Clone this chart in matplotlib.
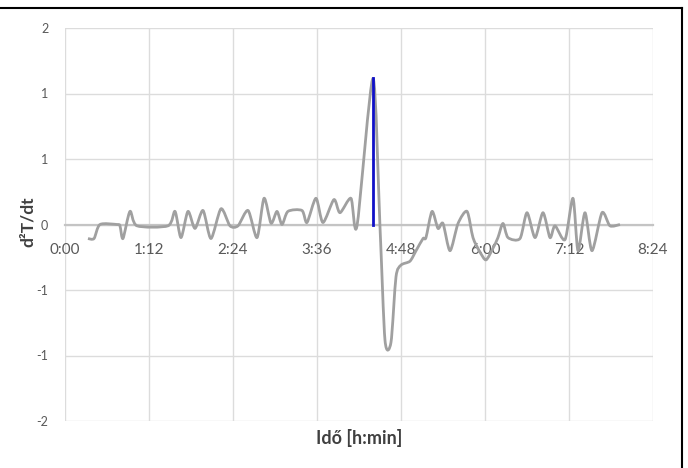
import matplotlib
matplotlib.use("Agg")
import matplotlib.pyplot as plt
from matplotlib.ticker import FuncFormatter, FixedLocator
from matplotlib.path import Path
from matplotlib.patches import PathPatch
from matplotlib.lines import Line2D
import math

plt.rcParams['font.family'] = ['Lato', 'DejaVu Sans']

# time in minutes
time_min = [19.7, 24.9, 30.0, 44.6, 47.1, 49.7, 55.7, 61.7, 88.3, 94.3, 99.4, 105.4,
            111.4, 118.3, 125.1, 133.7, 141.4, 148.3, 156.9, 164.6, 170.6, 176.6,
            181.7, 186.0, 191.1, 203.1, 207.4, 215.1, 221.1, 230.5, 235.7, 245.1,
            250.3, 264.0, 270.0, 274.3, 279.4, 283.7, 288.0, 295.7, 300.9, 306.9,
            309.4, 314.6, 319.7, 324.0, 330.0, 336.9, 344.6, 349.7, 355.7, 360.9,
            366.9, 371.1, 375.4, 379.7, 390.0, 396.0, 402.9, 409.7, 415.7, 420.0,
            428.6, 435.4, 439.7, 445.7, 451.7, 460.3, 467.1, 475.7]
d2T = [-0.107, -0.107, 0.0, 0.0, -0.01, -0.107, 0.10, -0.01, -0.01, 0.10, -0.10, 0.10,
       -0.03, 0.107, -0.107, 0.12, -0.01, -0.01, 0.107, -0.10, 0.20, 0.01,
       0.10, 0.0, 0.10, 0.107, 0.015, 0.20, 0.015, 0.19, 0.09, 0.20,
       -0.01, 1.115, -0.02, -0.885, -0.90, -0.40, -0.31, -0.28, -0.20, -0.107,
       -0.10, 0.10, -0.03, 0.008, -0.20, 0.008, 0.10, -0.10, -0.21, -0.27,
       -0.18, -0.10, 0.008, -0.10, -0.107, 0.09, -0.10, 0.09, -0.10, -0.01,
       -0.115, 0.20, -0.20, 0.09, -0.20, 0.09, -0.01, 0.0]

peak_time = 264.0
peak_value = 1.115

x_ticks = [0, 72, 144, 216, 288, 360, 432, 504]
y_ticks = [-1.5, -1.0, -0.5, 0.0, 0.5, 1.0, 1.5]

fig = plt.figure(figsize=(6.88, 4.68), dpi=100)
# frame lines (top and right) of the scanned figure
fig.lines.append(Line2D([0, 682/688], [1 - 8/468, 1 - 8/468], transform=fig.transFigure,
                        color='black', linewidth=1.5))
fig.lines.append(Line2D([682/688, 682/688], [0, 1 - 8/468], transform=fig.transFigure,
                        color='black', linewidth=1.5))
ax = fig.add_axes([65/688, 1 - 421/468, 588/688, 393/468])

# smoothed line (Excel-style smoothing drawn as cubic Bezier through the data points)
verts = [(time_min[0], d2T[0])]
codes = [Path.MOVETO]
n = len(time_min)
k = 0.13
for i in range(n - 1):
    x0, y0 = (time_min[i - 1], d2T[i - 1]) if i > 0 else (time_min[i], d2T[i])
    x1, y1 = time_min[i], d2T[i]
    x2, y2 = time_min[i + 1], d2T[i + 1]
    x3, y3 = (time_min[i + 2], d2T[i + 2]) if i + 2 < n else (x2, y2)
    verts += [(x1 + (x2 - x0) * k, y1 + (y2 - y0) * k),
              (x2 - (x3 - x1) * k, y2 - (y3 - y1) * k),
              (x2, y2)]
    codes += [Path.CURVE4, Path.CURVE4, Path.CURVE4]
ax.add_patch(PathPatch(Path(verts, codes), facecolor='none', edgecolor='#a0a0a0',
                       linewidth=2.0, joinstyle='round', zorder=3))
ax.plot([peak_time, peak_time], [0, peak_value], color='#1010c8', linewidth=2.0, zorder=4)

ax.set_xlim(0, 504)
ax.set_ylim(-1.5, 1.5)
ax.xaxis.set_major_locator(FixedLocator(x_ticks))
ax.yaxis.set_major_locator(FixedLocator(y_ticks))

def fmt_time(v, pos):
    m = int(round(v))
    return f"{m // 60}:{m % 60:02d}"

def fmt_y(v, pos):
    r = int(math.copysign(math.floor(abs(v) + 0.5), v)) if v != 0 else 0
    return f"{r}"

ax.xaxis.set_major_formatter(FuncFormatter(fmt_time))
ax.yaxis.set_major_formatter(FuncFormatter(fmt_y))

ax.grid(True, color='#dcdcdc', linewidth=1.0, zorder=0)
ax.set_axisbelow(True)
for s in ['top', 'right', 'left']:
    ax.spines[s].set_visible(False)
ax.spines['bottom'].set_position(('data', 0))
ax.spines['bottom'].set_color('#c4c4c4')
ax.spines['bottom'].set_linewidth(1.6)
ax.spines['bottom'].set_zorder(2)

ax.tick_params(axis='x', length=0, pad=13, labelsize=11, labelcolor='#595959')
ax.tick_params(axis='y', length=0, pad=12, labelsize=9, labelcolor='#595959')

fig.text(28/688, 1 - 222/468, 'd²T/dt', rotation=90, ha='center', va='center',
         fontsize=12.5, fontweight='bold', color='#404040')
fig.text(359/688, 1 - 438/468, 'Idő [h:min]', ha='center', va='center',
         fontsize=13, fontweight='bold', color='#404040')

fig.savefig('out.png', dpi=100)
